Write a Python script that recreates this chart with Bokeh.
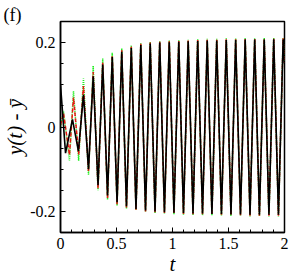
import numpy as np
from bokeh.plotting import figure
from bokeh.models import FixedTicker, Range1d
from bokeh.embed import file_html
from bokeh.resources import INLINE

# ---- data: extrema (peaks / troughs) ----
# early transient times differ per series; later times are shared
t_black_early = [0.000, 0.045, 0.107, 0.160]
y_black_early = [0.100, -0.062, 0.018, -0.057]

t_red_early = [0.000, 0.027, 0.080, 0.116, 0.162]
y_red_early = [0.005, 0.032, -0.066, 0.070, -0.065]

t_green_early = [0.000, 0.027, 0.080, 0.116, 0.162]
y_green_early = [0.000, 0.038, -0.080, 0.085, -0.080]

t_shared = [0.205, 0.250, 0.292, 0.335, 0.377, 0.420, 0.462, 0.505, 0.547, 0.589,
            0.632, 0.674, 0.717, 0.759, 0.801, 0.844, 0.886, 0.928, 0.971, 1.013,
            1.056, 1.098, 1.140, 1.183, 1.225, 1.268, 1.310, 1.352, 1.395, 1.437,
            1.480, 1.522, 1.564, 1.607, 1.649, 1.692, 1.734, 1.776, 1.819, 1.861,
            1.904, 1.946, 1.988, 2.000]

y_black = [0.076, -0.100, 0.120, -0.138, 0.148, -0.162, 0.166, -0.178, 0.178, -0.188,
           0.187, -0.194, 0.194, -0.198, 0.198, -0.200, 0.200, -0.202, 0.201, -0.203,
           0.202, -0.204, 0.203, -0.205, 0.204, -0.205, 0.205, -0.206, 0.205, -0.206,
           0.206, -0.207, 0.206, -0.207, 0.207, -0.208, 0.207, -0.208, 0.207, -0.208,
           0.208, -0.208, 0.208, 0.150]

y_red = [0.097, -0.105, 0.130, -0.145, 0.152, -0.168, 0.170, -0.183, 0.182, -0.191,
         0.190, -0.196, 0.197, -0.200, 0.200, -0.202, 0.202, -0.204, 0.203, -0.205,
         0.204, -0.206, 0.205, -0.207, 0.206, -0.207, 0.207, -0.208, 0.207, -0.208,
         0.208, -0.209, 0.208, -0.209, 0.209, -0.210, 0.209, -0.210, 0.209, -0.210,
         0.210, -0.210, 0.210, 0.152]

y_green = [0.115, -0.113, 0.145, -0.150, 0.162, -0.172, 0.176, -0.186, 0.186, -0.193,
           0.193, -0.197, 0.199, -0.201, 0.202, -0.204, 0.204, -0.206, 0.205, -0.207,
           0.206, -0.208, 0.207, -0.209, 0.208, -0.209, 0.209, -0.210, 0.209, -0.210,
           0.210, -0.211, 0.210, -0.211, 0.211, -0.212, 0.211, -0.212, 0.211, -0.212,
           0.212, -0.212, 0.212, 0.154]

x_ticks = [0, 0.5, 1, 1.5, 2]
x_tick_labels = ["0", "0.5", "1", "1.5", "2"]
y_ticks = [-0.2, 0, 0.2]
y_tick_labels = ["-0.2", "0", "0.2"]

SERIF = "Liberation Serif"

p = figure(width=293, height=278, output_backend="svg", toolbar_location=None,
           title="(f)",
           x_range=Range1d(0, 2), y_range=Range1d(-0.25, 0.25),
           min_border_left=60, min_border_right=9, min_border_top=21, min_border_bottom=44)
p.grid.visible = False
p.background_fill_color = "white"
p.border_fill_color = "white"
p.outline_line_color = "black"
p.outline_line_width = 1.5

p.title.align = "left"
p.title.offset = -57
p.title.standoff = -6
p.title.text_font = SERIF
p.title.text_font_size = "18px"
p.title.text_font_style = "normal"
p.title.text_color = "black"

p.line(t_green_early + t_shared, y_green_early + y_green, line_color="#22ee22",
       line_width=1.5, line_dash="1 1")
p.line(t_red_early + t_shared, y_red_early + y_red, line_color="#ee1111",
       line_width=1.5, line_dash="4 2")
p.line(t_black_early + t_shared, y_black_early + y_black, line_color="black",
       line_width=1.6)

xa = p.xaxis[0]
xa.ticker = FixedTicker(ticks=x_ticks, minor_ticks=list(np.round(np.arange(0, 2.001, 0.1), 3)))
xa.major_label_overrides = {t: l for t, l in zip(x_ticks, x_tick_labels)}
ya = p.yaxis[0]
ya.ticker = FixedTicker(ticks=y_ticks, minor_ticks=list(np.round(np.arange(-0.25, 0.2501, 0.05), 3)))
ya.major_label_overrides = {t: l for t, l in zip(y_ticks, y_tick_labels)}

for ax in (xa, ya):
    ax.axis_line_width = 1.5
    ax.axis_line_color = "black"
    ax.major_tick_in = 5
    ax.major_tick_out = 0
    ax.minor_tick_in = 3
    ax.minor_tick_out = 0
    ax.major_tick_line_color = "black"
    ax.minor_tick_line_color = "black"
    ax.major_label_text_font = SERIF
    ax.major_label_text_font_size = "16px"
    ax.major_label_text_color = "black"
    ax.major_label_standoff = 5
    ax.axis_label_text_font = SERIF
    ax.axis_label_text_font_style = "italic"
    ax.axis_label_text_font_size = "21px"
    ax.axis_label_text_color = "black"
    ax.axis_label_standoff = 0

xa.axis_label = "t"
ya.axis_label = "y(t) - ȳ"

open("out.html", "w").write(file_html(p, INLINE))
